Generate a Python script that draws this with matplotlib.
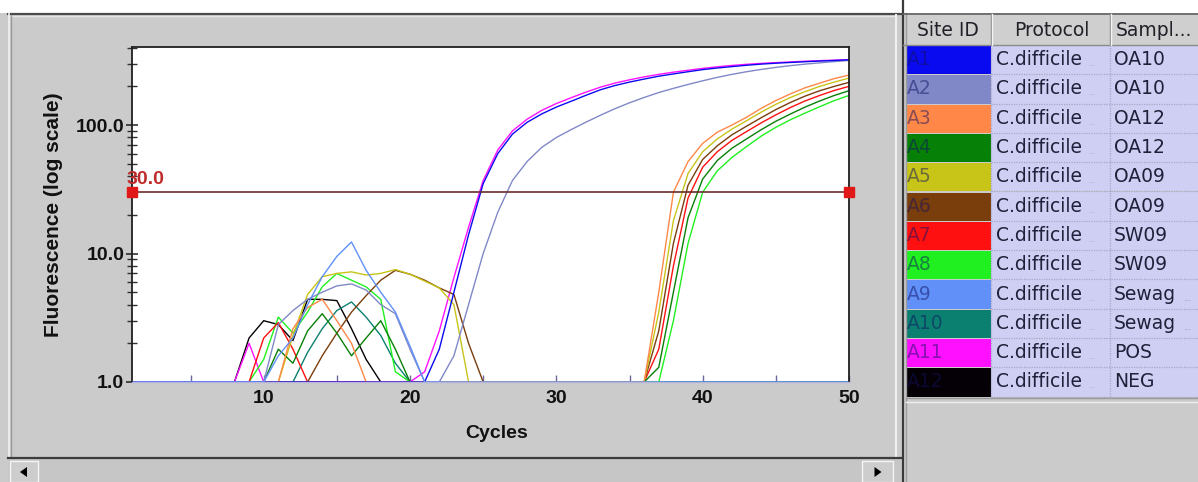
import matplotlib
matplotlib.use("Agg")
import matplotlib.pyplot as plt
from matplotlib.patches import Rectangle, Polygon
from matplotlib.lines import Line2D
from matplotlib.ticker import FixedLocator, NullFormatter
from matplotlib.colors import to_rgb

# ---------------------------------------------------------------- data
CYCLES = list(range(1, 51))

SITE_IDS = ["A1", "A2", "A3", "A4", "A5", "A6", "A7", "A8", "A9", "A10", "A11", "A12"]
PROTOCOLS = ["C.difficile"] * 12
SAMPLES = ["OA10", "OA10", "OA12", "OA12", "OA09", "OA09",
           "SW09", "SW09", "Sewag", "Sewag", "POS", "NEG"]
SAMPLE_TRUNCATED = [False] * 8 + [True, True] + [False, False]
WELL_COLORS = ["#0a0af0", "#8088c8", "#ff8848", "#078007", "#c8c418", "#7a3e0c",
               "#ff1010", "#20f020", "#6090f8", "#0c8070", "#ff10ff", "#050005"]

THRESHOLD = 30.0

# fluorescence per cycle (cycles 1..50), baseline shown at 1.0
FLUOR_A1 = [1.0] * 20 + [1.0, 1.8, 5, 14, 35, 60, 85, 105, 122, 138, 153, 170, 188, 203,
                         216, 228, 240, 250, 260, 270, 278, 285, 292, 298, 303, 307, 311,
                         315, 318, 322]
FLUOR_A2 = ([1.0] * 9 + [1.0, 2.8, 3.6, 4.4, 5.0, 5.6, 5.8, 5.2, 4.0, 3.4, 1.8, 1.0]
            + [1.0, 1.6, 4, 10, 21, 37, 52, 67, 80, 92, 105, 119, 134, 149, 164, 179, 193,
               207, 221, 235, 248, 260, 271, 281, 290, 298, 305, 312, 318])
FLUOR_A3 = ([1.0] * 10 + [1.0, 2.6, 3.8, 4.4, 3.0, 2.0, 1.0] + [1.0] * 18
            + [1.0, 5, 30, 52, 72, 88, 100, 115, 135, 155, 175, 195, 212, 230, 245])
FLUOR_A4 = ([1.0] * 9 + [1.0, 1.8, 1.4, 2.5, 3.4, 2.4, 1.6, 2.2, 3.0, 1.8, 1.0] + [1.0] * 16
            + [1.3, 5, 19, 38, 53, 66, 78, 92, 107, 122, 138, 154, 170, 185])
FLUOR_A5 = ([1.0] * 10 + [1.0, 2.3, 4.8, 6.6, 7.0, 7.2, 6.8, 7.0, 7.5, 6.9, 6.1, 5.4, 4.0, 1.0]
            + [1.0] * 12
            + [3.5, 18, 42, 62, 78, 93, 108, 126, 145, 164, 182, 200, 216, 232])
FLUOR_A6 = ([1.0] * 12 + [1.0, 1.6, 2.4, 3.5, 4.7, 6.2, 7.4, 6.9, 6.2, 5.4, 4.8, 2.0, 1.0]
            + [1.0] * 11
            + [2.5, 12, 34, 54, 69, 84, 98, 114, 132, 150, 168, 185, 200, 215])
FLUOR_A7 = ([1.0] * 9 + [2.2, 2.9, 1.8, 1.0] + [1.0] * 23
            + [1.8, 8, 27, 47, 62, 76, 89, 104, 120, 137, 154, 170, 186, 200])
FLUOR_A8 = ([1.0] * 9 + [1.5, 3.2, 2.4, 3.5, 5.5, 7.0, 6.2, 5.5, 4.4, 1.2, 1.0] + [1.0] * 17
            + [3, 12, 30, 44, 56, 68, 82, 96, 110, 124, 139, 155, 170])
FLUOR_A9 = [1.0] * 10 + [1.6, 2.2, 4.0, 6.6, 9.5, 12.3, 7.4, 5.0, 3.5, 1.9, 1.0] + [1.0] * 29
FLUOR_A10 = [1.0] * 12 + [1.7, 2.6, 3.6, 4.2, 3.2, 2.3, 1.4, 1.0] + [1.0] * 30
FLUOR_A11 = ([1.0] * 8 + [2.0, 1.0] + [1.0] * 10
             + [1.2, 2.5, 6.5, 16, 37, 64, 90, 111, 130, 147, 163, 180, 197, 212, 225, 237,
                248, 258, 267, 276, 284, 291, 297, 302, 306, 310, 314, 317, 320, 323])
FLUOR_A12 = [1.0] * 8 + [2.2, 3.0, 2.8, 2.1, 4.4, 4.4, 4.3, 2.6, 1.5, 1.0] + [1.0] * 32

FLUOR = [FLUOR_A1, FLUOR_A2, FLUOR_A3, FLUOR_A4, FLUOR_A5, FLUOR_A6,
         FLUOR_A7, FLUOR_A8, FLUOR_A9, FLUOR_A10, FLUOR_A11, FLUOR_A12]

# wells are painted from last to first; A9 goes on top along the baseline
DRAW_ORDER = [11, 10, 9, 7, 6, 5, 4, 3, 2, 1, 0, 8]

X_TICKS = [10, 20, 30, 40, 50]
X_TICK_LABELS = ["10", "20", "30", "40", "50"]
Y_TICKS = [1.0, 10.0, 100.0]
Y_TICK_LABELS = ["1.0", "10.0", "100.0"]

# ---------------------------------------------------------------- layout helpers
W, H = 1198, 482
FONT = "Liberation Sans"
TABLE_FONT = "DejaVu Sans"
GRAY = "#cbcbcb"
LAVENDER = "#cfcff3"

fig = plt.figure(figsize=(W / 100, H / 100), dpi=100, facecolor=GRAY)


def fx(x):
    return x / W


def fy(y):
    return 1 - y / H


def rect(x0, y0, x1, y1, **kw):
    kw.setdefault("lw", 0)
    fig.add_artist(Rectangle((fx(x0), fy(y1)), (x1 - x0) / W, (y1 - y0) / H,
                             transform=fig.transFigure, **kw))


def hline(x0, x1, y, **kw):
    fig.add_artist(Line2D([fx(x0), fx(x1)], [fy(y), fy(y)], transform=fig.transFigure, **kw))


def vline(x, y0, y1, **kw):
    fig.add_artist(Line2D([fx(x), fx(x)], [fy(y0), fy(y1)], transform=fig.transFigure, **kw))


def text(x, y, s, **kw):
    kw.setdefault("family", FONT)
    kw.setdefault("va", "center")
    fig.text(fx(x), fy(y), s, **kw)


# ---------------------------------------------------------------- window chrome
rect(0, 0, W, 13, fc="white")
hline(8, 901, 13.5, color="#4a4a4a", lw=1.6)
hline(10, 896, 15.5, color="#e6e6e6", lw=1)
vline(8.5, 13, 458, color="#f2f2f2", lw=1.2)
vline(10.5, 15, 456, color="#9a9a9a", lw=1)
vline(896, 15, 456, color="#f0f0f0", lw=1.5)

# horizontal scroll bar
rect(8, 458, 901, H, fc="#c6c6c6")
hline(8, 901, 457.5, color="#3c3c3c", lw=1.6)
for bx0, bx1, direction in [(10, 38, -1), (862, 893, 1)]:
    rect(bx0, 461, bx1, H, fc="#cdcdcd", ec="#f4f4f4", lw=1)
    cx, cy = (bx0 + bx1) / 2, 472
    pts = [(cx + 4 * direction, cy), (cx - 3 * direction, cy - 5), (cx - 3 * direction, cy + 5)]
    fig.add_artist(Polygon([(fx(px), fy(py)) for px, py in pts], closed=True,
                           transform=fig.transFigure, fc="black", lw=0))

# splitter between plot panel and table
vline(902.5, 0, H, color="#3a3a3a", lw=1.6)
vline(905.5, 13, H, color="#9c9c9c", lw=1)

# ---------------------------------------------------------------- table
TABLE_TOP, ROW_H = 45, 29.3
COL_X = [906, 991, 1110, W]
TFS = 13.5

rect(903, 13, W, TABLE_TOP, fc="#cfcfcf")
hline(903, W, 13.5, color="#606060", lw=1.2)
hline(903, W, TABLE_TOP, color="#8a8a8a", lw=1)
for cx in COL_X[1:3]:
    vline(cx - 0.5, 14, TABLE_TOP, color="#8a8a8a", lw=1)
    vline(cx + 1, 14, TABLE_TOP, color="#f4f4f4", lw=1)
text(948, 30, "Site ID", ha="center", fontsize=TFS, color="#202028", family=TABLE_FONT)
text(1052, 30, "Protocol", ha="center", fontsize=TFS, color="#202028", family=TABLE_FONT)
text(1116, 30, "Sampl...", ha="left", fontsize=TFS, color="#202028", family=TABLE_FONT)

navy = to_rgb("#101060")
table_bottom = TABLE_TOP + ROW_H * len(SITE_IDS)
for i, (sid, prot, samp, trunc, col) in enumerate(
        zip(SITE_IDS, PROTOCOLS, SAMPLES, SAMPLE_TRUNCATED, WELL_COLORS)):
    y0 = TABLE_TOP + i * ROW_H
    y1 = y0 + ROW_H
    yc = (y0 + y1) / 2
    rect(COL_X[1], y0, W, y1, fc=LAVENDER)
    rect(COL_X[0], y0 + 1, COL_X[1], y1, fc=col)
    c = to_rgb(col)
    id_color = tuple(0.5 * a + 0.5 * b for a, b in zip(c, navy))
    text(907, yc, sid, ha="left", fontsize=TFS, color=id_color, family=TABLE_FONT)
    text(996, yc, prot, ha="left", fontsize=TFS, color="#20203a", family=TABLE_FONT)
    text(1089, yc + 3, "..", ha="left", fontsize=9, color="#b0b0cc", family=TABLE_FONT)
    text(1114, yc, samp, ha="left", fontsize=TFS, color="#20203a", family=TABLE_FONT)
    if trunc:
        text(1184, yc + 3, "..", ha="left", fontsize=9, color="#a0a0c0", family=TABLE_FONT)
    hline(COL_X[1], W, y1, color="#a6a6c6", lw=0.9, ls=(0, (1, 1)))
vline(COL_X[1], TABLE_TOP, table_bottom, color="#a6a6c6", lw=0.9, ls=(0, (1, 1)))
vline(COL_X[2], TABLE_TOP, table_bottom, color="#a6a6c6", lw=0.9, ls=(0, (1, 1)))
hline(906, W, table_bottom + 1.5, color="#9a9a9a", lw=1)
hline(906, W, table_bottom + 5, color="#efefef", lw=1)

# ---------------------------------------------------------------- amplification plot
ax = fig.add_axes([fx(132), fy(382), (849 - 132) / W, (382 - 47) / H])
ax.set_facecolor("white")
ax.set_yscale("log")
ax.set_xlim(1, 50)
ax.set_ylim(1.0, 405)

for idx in DRAW_ORDER:
    ax.plot(CYCLES, FLUOR[idx], color=WELL_COLORS[idx], lw=1.0, clip_on=False, zorder=2)

ax.axhline(THRESHOLD, color="#6a2c2c", lw=1.2, zorder=3)
ax.annotate(f"{THRESHOLD:.1f}", xy=(1, THRESHOLD), xytext=(-4, 3), textcoords="offset points",
            ha="left", va="bottom", fontsize=14, fontweight="bold", color="#c02a2a",
            family=FONT, zorder=4, annotation_clip=False)
ax.plot([1, 50], [THRESHOLD, THRESHOLD], ls="none", marker="s", ms=7,
        color="#e01818", clip_on=False, zorder=5)

for side in ("top", "left", "right"):
    ax.spines[side].set_color("#202020")
    ax.spines[side].set_linewidth(1.3)
ax.spines["bottom"].set_color("#b4b4dc")
ax.spines["bottom"].set_linewidth(1.0)

ax.yaxis.set_major_locator(FixedLocator(Y_TICKS))
ax.set_yticklabels(Y_TICK_LABELS)
minor_y = [m * d for d in (1, 10, 100) for m in range(2, 10) if m * d < 405]
ax.yaxis.set_minor_locator(FixedLocator(minor_y))
ax.yaxis.set_minor_formatter(NullFormatter())
ax.tick_params(axis="y", which="major", direction="inout", length=9, width=1.1,
               color="#202020", pad=1)
ax.tick_params(axis="y", which="minor", direction="inout", length=7, width=1.0,
               color="#303030")

ax.xaxis.set_major_locator(FixedLocator(X_TICKS))
ax.set_xticklabels(X_TICK_LABELS)
ax.xaxis.set_minor_locator(FixedLocator([5, 15, 25, 35, 45]))
ax.tick_params(axis="x", which="both", direction="in", length=5, width=1.0,
               color="#6a6a9a", pad=6)

for lab in ax.get_xticklabels() + ax.get_yticklabels():
    lab.set_family(FONT)
    lab.set_fontweight("bold")
    lab.set_fontsize(14)
    lab.set_color("#111111")

text(497, 433, "Cycles", ha="center", fontsize=14, fontweight="bold", color="#111111")
text(54, 215, "Fluorescence (log scale)", ha="center", rotation=90, fontsize=15,
     fontweight="bold", color="#111111")

fig.savefig("out.png", dpi=100, facecolor=fig.get_facecolor())
